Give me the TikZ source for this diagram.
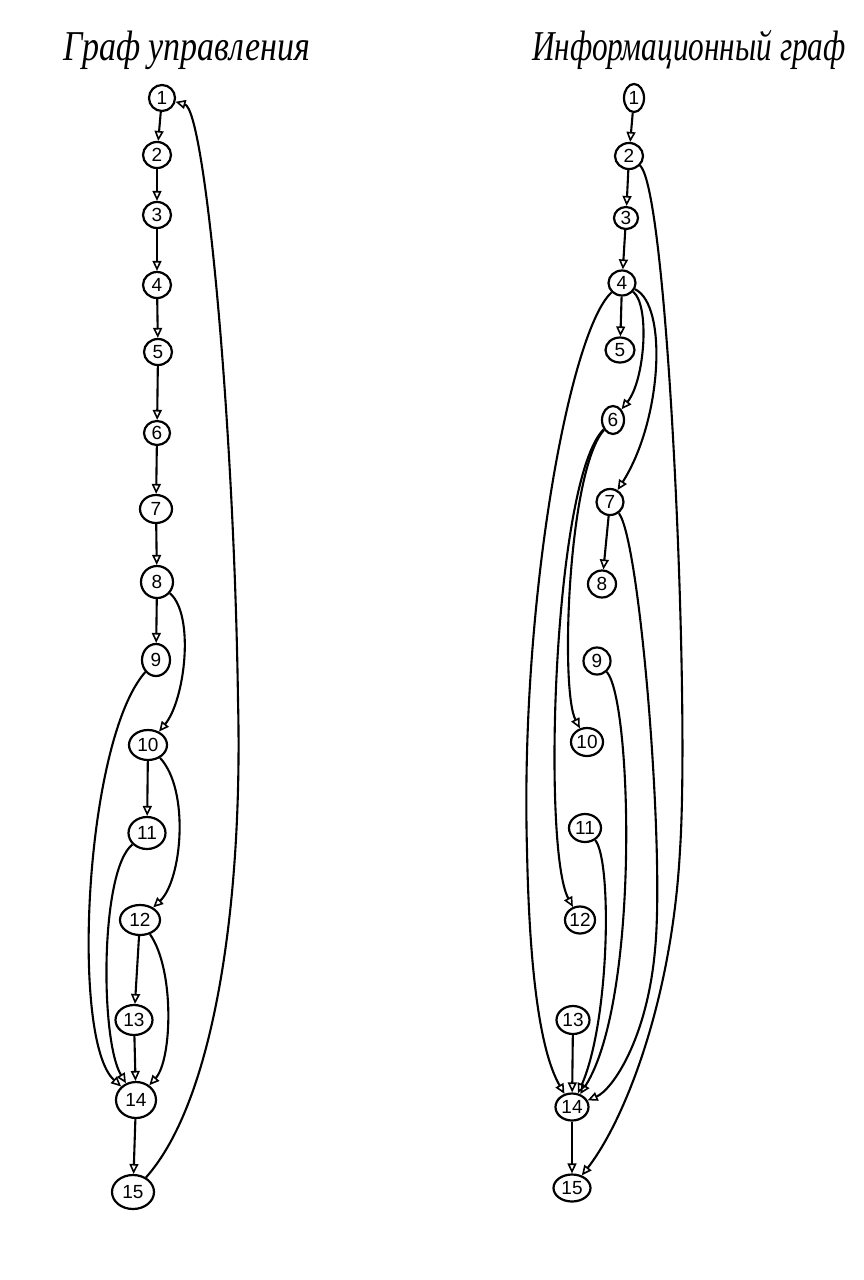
\documentclass[tikz,border=0pt]{standalone}
\usepackage{fontspec}
\setmainfont{Liberation Sans}
\newfontfamily\titlefont{Liberation Serif}
\usetikzlibrary{arrows.meta,shapes.geometric}
\begin{document}
\begin{tikzpicture}[x=1pt,y=-1pt,
  vtx/.style={draw, ellipse, line width=2.2pt, inner sep=0pt, minimum height=26pt, minimum width=26pt, font=\fontsize{19}{19}\selectfont},
  conn/.style={draw, line width=2.1pt, -{Triangle[open,length=10pt,width=9pt,line width=1.6pt]}},
  ttl/.style={font=\titlefont\itshape\fontsize{34}{40}\selectfont, anchor=base, yscale=1.25}]
\useasboundingbox (0,0) rectangle (864,1280);
% titles
\node[ttl] (t1) at (187,60) {Граф управления};
\node[ttl, xscale=0.92] (t2) at (689,60) {Информационный граф};
% left graph
\node[vtx] (l1) at (162,98) {1};
\node[vtx, minimum width=28pt] (l2) at (157,155) {2};
\node[vtx, minimum width=28pt] (l3) at (157,215) {3};
\node[vtx, minimum width=28pt] (l4) at (157,285) {4};
\node[vtx, minimum width=28pt] (l5) at (158,352) {5};
\node[vtx, minimum height=24pt] (l6) at (157,433) {6};
\node[vtx, minimum width=32pt, minimum height=28pt] (l7) at (156,509) {7};
\node[vtx, minimum width=32pt, minimum height=32pt] (l8) at (157,582) {8};
\node[vtx, minimum width=28pt, minimum height=32pt] (l9) at (156,660) {9};
\node[vtx, minimum width=38pt, minimum height=30pt] (l10) at (148,745) {10};
\node[vtx, minimum width=37pt, minimum height=32pt] (l11) at (147,833) {11};
\node[vtx, minimum width=40pt, minimum height=30pt] (l12) at (140,920) {12};
\node[vtx, minimum width=37pt, minimum height=30pt] (l13) at (134,1020) {13};
\node[vtx, minimum width=40pt, minimum height=36pt] (l14) at (136,1100) {14};
\node[vtx, minimum width=42pt, minimum height=34pt] (l15) at (133,1192) {15};
\foreach \a/\b in {l1/l2,l2/l3,l3/l4,l4/l5,l5/l6,l6/l7,l7/l8,l8/l9,l10/l11,l12/l13,l13/l14,l14/l15}
  \path[conn] (\a) -- (\b);
\path[conn] (l8) .. controls (195,615) and (185,700) .. (l10);
\path[conn] (l9) .. controls (85,740) and (70,1040) .. (l14);
\path[conn] (l10) .. controls (190,790) and (182,880) .. (l12);
\path[conn] (l11) .. controls (100,870) and (100,1040) .. (l14);
\path[conn] (l12) .. controls (175,970) and (172,1060) .. (l14);
\path[conn] (l15) .. controls (215,1100) and (243,900) .. (238,700) .. controls (234,420) and (205,110) .. (l1);
% right graph
\node[vtx, minimum width=20pt, minimum height=28pt] (r1) at (634,98) {1};
\node[vtx, minimum width=28pt] (r2) at (629,156) {2};
\node[vtx, minimum width=24pt, minimum height=22pt] (r3) at (626,218) {3};
\node[vtx, minimum width=27pt, minimum height=25pt] (r4) at (622,283) {4};
\node[vtx, minimum width=29pt, minimum height=25pt] (r5) at (620,350) {5};
\node[vtx, minimum width=22pt, minimum height=28pt] (r6) at (613,420) {6};
\node[vtx, minimum width=27pt, minimum height=26pt] (r7) at (610,502) {7};
\node[vtx, minimum width=28pt, minimum height=27pt] (r8) at (602,584) {8};
\node[vtx, minimum width=27pt, minimum height=27pt] (r9) at (597,661) {9};
\node[vtx, minimum width=32pt, minimum height=28pt] (r10) at (587,742) {10};
\node[vtx, minimum width=32pt, minimum height=28pt] (r11) at (585,828) {11};
\node[vtx, minimum width=30pt, minimum height=27pt] (r12) at (580,920) {12};
\node[vtx, minimum width=33pt, minimum height=28pt] (r13) at (573,1020) {13};
\node[vtx, minimum width=33pt, minimum height=27pt] (r14) at (572,1107) {14};
\node[vtx, minimum width=37pt, minimum height=27pt] (r15) at (572,1188) {15};
\foreach \a/\b in {r1/r2,r2/r3,r3/r4,r4/r5,r7/r8,r13/r14,r14/r15}
  \path[conn] (\a) -- (\b);
\path[conn] (r2) .. controls (668,190) and (690,700) .. (680,850) .. controls (672,1000) and (625,1120) .. (r15);
\path[conn] (r4) .. controls (570,330) and (520,600) .. (527,850) .. controls (530,1000) and (545,1060) .. (r14);
\path[conn] (r4) .. controls (650,305) and (645,380) .. (r6);
\path[conn] (r4) .. controls (668,305) and (662,420) .. (r7);
\path[conn] (r6) .. controls (568,470) and (560,690) .. (r10);
\path[conn] (r6) .. controls (553,480) and (542,850) .. (r12);
\path[conn] (r7) .. controls (640,540) and (665,850) .. (655,950) .. controls (647,1040) and (612,1090) .. (r14);
\path[conn] (r9) .. controls (632,700) and (640,1000) .. (r14);
\path[conn] (r11) .. controls (612,860) and (610,1020) .. (r14);
\end{tikzpicture}
\end{document}
